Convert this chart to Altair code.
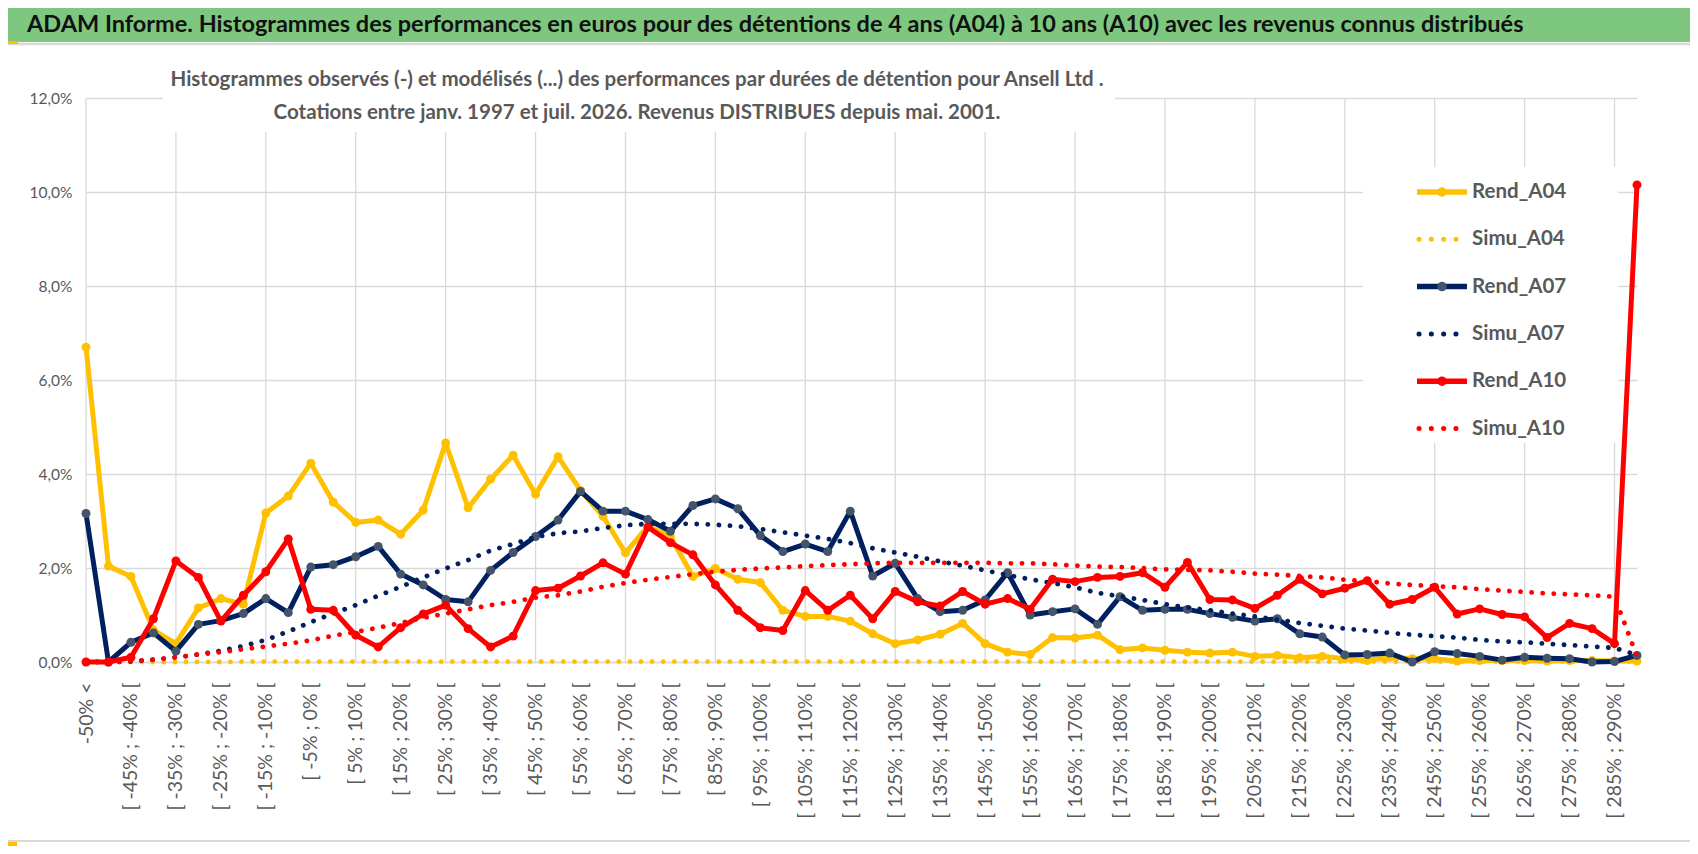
import altair as alt
import pandas as pd

# ---------------- data ----------------
categories = ["-50% <"] + [f"[ {a}% ; {a + 5}% [" for a in range(-50, 295, 5)]

rend_a04 = [6.70, 2.04, 1.82, 0.68, 0.39, 1.15, 1.35, 1.23, 3.17, 3.53,
            4.23, 3.40, 2.97, 3.02, 2.72, 3.23, 4.66, 3.28, 3.89, 4.40,
            3.57, 4.37, 3.65, 3.10, 2.32, 2.89, 2.67, 1.82, 1.99, 1.76,
            1.69, 1.10, 0.97, 0.97, 0.87, 0.60, 0.39, 0.47, 0.59, 0.82,
            0.39, 0.21, 0.16, 0.52, 0.51, 0.57, 0.26, 0.30, 0.25, 0.21,
            0.19, 0.21, 0.12, 0.14, 0.09, 0.12, 0.07, 0.03, 0.10, 0.07,
            0.07, 0.02, 0.03, 0.03, 0.03, 0.02, 0.03, 0.03, 0.02, 0.02]
simu_a04 = [0.00, 0.00, 0.00, 0.00, 0.00, 0.00, 0.00, 0.01, 0.01, 0.01,
            0.01, 0.01, 0.01, 0.01, 0.01, 0.01, 0.01, 0.01, 0.01, 0.01,
            0.01, 0.01, 0.01, 0.01, 0.01, 0.01, 0.01, 0.01, 0.01, 0.01,
            0.01, 0.01, 0.01, 0.01, 0.01, 0.01, 0.01, 0.01, 0.01, 0.01,
            0.01, 0.01, 0.01, 0.01, 0.01, 0.01, 0.01, 0.01, 0.01, 0.01,
            0.01, 0.01, 0.01, 0.01, 0.01, 0.01, 0.01, 0.01, 0.01, 0.01,
            0.01, 0.01, 0.01, 0.01, 0.01, 0.01, 0.01, 0.01, 0.01, 0.01]
rend_a07 = [3.16, 0.00, 0.42, 0.62, 0.23, 0.80, 0.88, 1.03, 1.35, 1.05,
            2.02, 2.07, 2.24, 2.46, 1.87, 1.64, 1.33, 1.28, 1.95, 2.33,
            2.67, 3.02, 3.63, 3.21, 3.21, 3.03, 2.78, 3.33, 3.47, 3.26,
            2.69, 2.35, 2.51, 2.35, 3.21, 1.83, 2.10, 1.35, 1.07, 1.10,
            1.32, 1.90, 1.00, 1.07, 1.13, 0.80, 1.39, 1.10, 1.12, 1.12,
            1.03, 0.95, 0.87, 0.92, 0.60, 0.53, 0.15, 0.16, 0.19, 0.00,
            0.22, 0.18, 0.12, 0.04, 0.10, 0.08, 0.07, 0.00, 0.01, 0.14]
simu_a07 = [0.00, 0.00, 0.01, 0.05, 0.10, 0.16, 0.24, 0.34, 0.47, 0.65,
            0.85, 1.03, 1.21, 1.41, 1.60, 1.80, 1.99, 2.17, 2.37, 2.51,
            2.66, 2.74, 2.78, 2.85, 2.91, 2.94, 2.94, 2.94, 2.92, 2.89,
            2.83, 2.76, 2.69, 2.62, 2.53, 2.42, 2.33, 2.24, 2.14, 2.05,
            1.95, 1.85, 1.76, 1.68, 1.59, 1.47, 1.40, 1.32, 1.23, 1.16,
            1.10, 1.03, 0.97, 0.90, 0.83, 0.77, 0.71, 0.67, 0.62, 0.58,
            0.55, 0.52, 0.47, 0.44, 0.42, 0.39, 0.36, 0.33, 0.30, 0.15]
rend_a10 = [0.00, 0.00, 0.10, 0.92, 2.15, 1.80, 0.87, 1.42, 1.92, 2.62,
            1.12, 1.10, 0.57, 0.32, 0.73, 1.02, 1.21, 0.71, 0.32, 0.55,
            1.52, 1.57, 1.83, 2.11, 1.87, 2.87, 2.54, 2.28, 1.64, 1.10,
            0.73, 0.67, 1.52, 1.10, 1.42, 0.92, 1.50, 1.28, 1.19, 1.50,
            1.23, 1.35, 1.12, 1.76, 1.71, 1.80, 1.82, 1.90, 1.59, 2.12,
            1.33, 1.32, 1.14, 1.42, 1.76, 1.45, 1.57, 1.73, 1.23, 1.33,
            1.59, 1.02, 1.13, 1.01, 0.96, 0.52, 0.82, 0.71, 0.39, 10.15]
simu_a10 = [0.00, 0.00, 0.02, 0.05, 0.10, 0.16, 0.21, 0.27, 0.33, 0.39,
            0.46, 0.56, 0.64, 0.73, 0.83, 0.94, 1.03, 1.12, 1.21, 1.28,
            1.37, 1.42, 1.50, 1.60, 1.68, 1.75, 1.81, 1.87, 1.92, 1.96,
            1.99, 2.01, 2.04, 2.06, 2.08, 2.10, 2.11, 2.11, 2.11, 2.11,
            2.11, 2.10, 2.10, 2.08, 2.05, 2.03, 2.02, 2.00, 1.97, 1.96,
            1.95, 1.92, 1.88, 1.86, 1.83, 1.80, 1.75, 1.72, 1.67, 1.64,
            1.61, 1.59, 1.55, 1.52, 1.49, 1.46, 1.44, 1.42, 1.39, 0.12]

series_names = ["Rend_A04", "Simu_A04", "Rend_A07", "Simu_A07", "Rend_A10", "Simu_A10"]
series_values = [rend_a04, simu_a04, rend_a07, simu_a07, rend_a10, simu_a10]
y_ticks = [0, 2, 4, 6, 8, 10, 12]

title_text = ("ADAM Informe. Histogrammes des performances en euros pour des détentions "
              "de 4 ans (A04) à 10 ans (A10) avec les revenus connus distribués")
subtitle_lines = [
    "Histogrammes observés (-) et modélisés (...) des performances par durées de détention pour Ansell Ltd .",
    "Cotations entre janv. 1997 et juil. 2026. Revenus DISTRIBUES depuis mai. 2001.",
]

# ---------------- styles ----------------
FONT = "Lato, sans-serif"
GRID = "#D9D9D9"
TXT = "#595959"
line_colors = {"A04": "#FFC000", "A07": "#002060", "A10": "#FF0000"}
marker_colors = {"A04": "#FFC000", "A07": "#44546A", "A10": "#FF0000"}
DOT = [0.1, 11]
W, H = 1551, 564

X = alt.X("cat:N", sort=categories,
          scale=alt.Scale(type="point", padding=0, domain=categories),
          axis=alt.Axis(values=categories[::2], labelAngle=270, labelFont=FONT,
                        labelFontSize=19.5, labelColor=TXT, labelPadding=20,
                        ticks=False, domain=True, domainColor=GRID, domainWidth=1.5,
                        grid=False, title=None, labelOverlap=False))
Y = alt.Y("value:Q", scale=alt.Scale(domain=[0, 12], nice=False),
          axis=alt.Axis(values=y_ticks,
                        labelExpr="replace(format(datum.value, '.1f'), '.', ',') + '%'",
                        grid=True, gridColor=GRID, gridWidth=1.3, domain=False,
                        ticks=False, labelPadding=14, labelFontSize=15.5,
                        labelColor=TXT, labelFont=FONT, title=None))

layers = []

# vertical gridlines every 4 categories
grid_df = pd.DataFrame({"cat": categories[::4]})
layers.append(alt.Chart(grid_df).mark_rule(color=GRID, strokeWidth=1.3).encode(x=X))


def one_row(text):
    return pd.DataFrame({"t": [text]})


# white boxes behind subtitle and legend
layers.append(alt.Chart(one_row("box")).mark_rect(color="white").encode(
    x=alt.value(77), x2=alt.value(1029), y=alt.value(-38), y2=alt.value(34)))
layers.append(alt.Chart(one_row("box")).mark_rect(color="white").encode(
    x=alt.value(1277), x2=alt.value(1532), y=alt.value(69), y2=alt.value(345)))

# data series
for name, vals in zip(series_names, series_values):
    key = name[-3:]
    df = pd.DataFrame({"cat": categories, "value": vals, "series": name})
    base = alt.Chart(df)
    if name.startswith("Rend"):
        layers.append(base.mark_line(color=line_colors[key], strokeWidth=5,
                                     strokeJoin="round").encode(x=X, y=Y))
        layers.append(base.mark_circle(color=marker_colors[key], size=80,
                                       opacity=1).encode(x=X, y=Y))
    else:
        layers.append(base.mark_line(color=line_colors[key], strokeWidth=4.8,
                                     strokeDash=DOT, strokeCap="round").encode(x=X, y=Y))

# legend (manual, Excel style)
for k, name in enumerate(series_names):
    key = name[-3:]
    ly = 94 + 47.3 * k
    row = one_row(name)
    if name.startswith("Rend"):
        layers.append(alt.Chart(row).mark_rule(color=line_colors[key], strokeWidth=5.5).encode(
            x=alt.value(1331), x2=alt.value(1381), y=alt.value(ly)))
        layers.append(alt.Chart(row).mark_circle(color=marker_colors[key], size=90,
                                                 opacity=1).encode(
            x=alt.value(1356), y=alt.value(ly)))
    else:
        x_end = 1378 if key != "A10" else 1382
        layers.append(alt.Chart(row).mark_rule(color=line_colors[key], strokeWidth=5,
                                               strokeDash=[0.1, 12.2],
                                               strokeCap="round").encode(
            x=alt.value(1333), x2=alt.value(x_end), y=alt.value(ly)))
    layers.append(alt.Chart(row).mark_text(align="left", baseline="middle", font=FONT,
                                           fontSize=20.5, fontWeight="bold",
                                           color=TXT).encode(
        x=alt.value(1386), y=alt.value(ly), text="t:N"))

# header band
layers.append(alt.Chart(one_row("band")).mark_rect(color="#7DC87E").encode(
    x=alt.value(-90), x2=alt.value(1620), y=alt.value(-95), y2=alt.value(-56)))
layers.append(alt.Chart(one_row("line")).mark_rule(color=GRID, strokeWidth=2.5).encode(
    x=alt.value(-90), x2=alt.value(1620), y=alt.value(-54)))
layers.append(alt.Chart(one_row("acc")).mark_rect(color="#FFC000").encode(
    x=alt.value(-90), x2=alt.value(-68), y=alt.value(-57), y2=alt.value(-54)))
layers.append(alt.Chart(one_row(title_text)).mark_text(
    align="left", baseline="alphabetic", font=FONT, fontSize=23.5, fontWeight="bold",
    color="#111111").encode(x=alt.value(-59), y=alt.value(-66), text="t:N"))

# subtitle
for i, line in enumerate(subtitle_lines):
    layers.append(alt.Chart(one_row(line)).mark_text(
        align="center", baseline="middle", font=FONT, fontSize=20.5, fontWeight="bold",
        color=TXT).encode(x=alt.value(551), y=alt.value(-18 + 33 * i), text="t:N"))

# bottom frame details
layers.append(alt.Chart(one_row("bottom")).mark_rule(color=GRID, strokeWidth=2).encode(
    x=alt.value(-90), x2=alt.value(1620), y=alt.value(743)))
layers.append(alt.Chart(one_row("acc2")).mark_rect(color="#FFC000").encode(
    x=alt.value(-90), x2=alt.value(-69), y=alt.value(744), y2=alt.value(749)))

chart = alt.layer(*layers).properties(
    width=W, height=H,
    autosize=alt.AutoSizeParams(type="none"),
    padding={"left": 78, "top": 90, "right": 53, "bottom": 184},
    background="white",
).configure_view(strokeWidth=0)

chart.save("out.html", embed_options={"renderer": "svg", "actions": False})
